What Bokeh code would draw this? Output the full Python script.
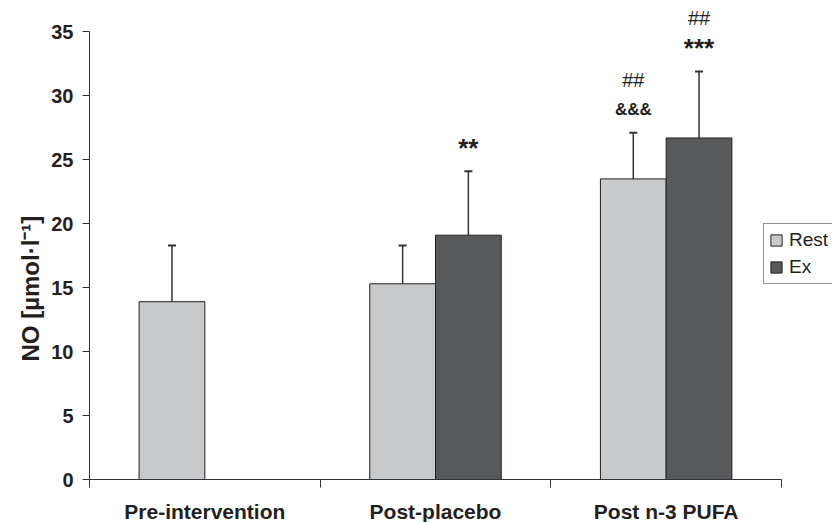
from bokeh.plotting import figure
from bokeh.models import (ColumnDataSource, FixedTicker, Whisker, TeeHead, LabelSet,
                          Legend, LegendItem, Range1d, Title)
from bokeh.core.properties import value
from bokeh.embed import file_html
from bokeh.resources import INLINE

# ---- data ----
categories = ["Pre-intervention", "Post-placebo", "Post n-3 PUFA"]
rest_mean = [13.9, 15.3, 23.5]
rest_sd = [4.4, 3.0, 3.6]
ex_categories = ["Post-placebo", "Post n-3 PUFA"]
ex_mean = [19.1, 26.7]
ex_sd = [5.0, 5.2]
y_ticks = [0, 5, 10, 15, 20, 25, 30, 35]
y_label = "NO [µmol·l⁻¹]"

# significance marks per bar: (category, series, first line, second line)
sig_category = ["Post-placebo", "Post n-3 PUFA", "Post n-3 PUFA"]
sig_series = ["Ex", "Rest", "Ex"]
sig_first = ["**", "&&&", "***"]
sig_second = ["", "##", "##"]

REST_C = "#c8c9cb"
EX_C = "#58595b"
INK = "#231f20"
AX = "#333333"
FONT = "Liberation Sans"
BW = 0.285
OFF = BW / 2

def cx(cat, series):
    i = categories.index(cat) + 0.5
    return i - OFF if series == "Rest" else i + OFF

rest_x = [cx(c, "Rest") for c in categories]
ex_x = [cx(c, "Ex") for c in ex_categories]

rest_src = ColumnDataSource(dict(x=rest_x, top=rest_mean,
                                 upper=[m + s for m, s in zip(rest_mean, rest_sd)]))
ex_src = ColumnDataSource(dict(x=ex_x, top=ex_mean,
                               upper=[m + s for m, s in zip(ex_mean, ex_sd)]))

n_cat = len(categories)
y_max = y_ticks[-1]
# frame extends beyond the axes (axes limited with bounds) so marks above/right are visible
p = figure(frame_width=743, frame_height=479, output_backend="svg", toolbar_location=None,
           x_range=Range1d(0, n_cat * 743 / 692), y_range=Range1d(0, y_max * 479 / 447.7),
           min_border_left=89, min_border_right=0, min_border_top=0, min_border_bottom=43)
p.outline_line_color = None
p.xgrid.visible = False
p.ygrid.visible = False
p.background_fill_color = "white"
p.border_fill_color = "white"

rest_r = p.vbar(x="x", top="top", bottom=0, width=BW, source=rest_src,
                fill_color=REST_C, line_color=INK, line_width=1)
ex_r = p.vbar(x="x", top="top", bottom=0, width=BW, source=ex_src,
              fill_color=EX_C, line_color=INK, line_width=1)

for src in (rest_src, ex_src):
    w = Whisker(base="x", lower="top", upper="upper", source=src, dimension="height",
                line_color=AX, line_width=1.5, lower_head=None,
                upper_head=TeeHead(size=8, line_color=AX, line_width=2))
    p.add_layout(w)

# x axis
xa = p.xaxis[0]
xa.bounds = (0, n_cat)
xa.ticker = FixedTicker(ticks=[i + 0.5 for i in range(n_cat)], minor_ticks=list(range(n_cat + 1)))
xa.major_label_overrides = {i + 0.5: c for i, c in enumerate(categories)}
xa.major_tick_out = 0
xa.major_tick_in = 0
xa.minor_tick_out = 8
xa.minor_tick_in = 0
xa.minor_tick_line_color = AX
xa.axis_line_color = AX
xa.major_label_text_font = FONT
xa.major_label_text_font_style = "bold"
xa.major_label_text_font_size = "21px"
xa.major_label_text_color = INK
xa.major_label_standoff = 12

# y axis
ya = p.yaxis[0]
ya.bounds = (0, y_max)
ya.ticker = FixedTicker(ticks=y_ticks, minor_ticks=[])
ya.major_tick_out = 7
ya.major_tick_in = 0
ya.major_tick_line_color = AX
ya.axis_line_color = AX
ya.major_label_text_font = FONT
ya.major_label_text_font_style = "bold"
ya.major_label_text_font_size = "20px"
ya.major_label_text_color = INK
ya.major_label_standoff = 9

ytitle = Title(text=y_label, align="left", offset=118, text_font=FONT,
               text_font_style="bold", text_font_size="24px", text_color=INK, standoff=10)
p.add_layout(ytitle, "left")

# significance labels
def bar_upper(cat, series):
    if series == "Rest":
        i = categories.index(cat)
        return rest_mean[i] + rest_sd[i]
    i = ex_categories.index(cat)
    return ex_mean[i] + ex_sd[i]

groups = {"star": dict(x=[], y=[], t=[]), "amp": dict(x=[], y=[], t=[]), "hash": dict(x=[], y=[], t=[])}
for c, s, f, sc in zip(sig_category, sig_series, sig_first, sig_second):
    for txt in (f, sc):
        if not txt:
            continue
        key = "star" if "*" in txt else ("amp" if "&" in txt else "hash")
        groups[key]["x"].append(cx(c, s))
        groups[key]["y"].append(bar_upper(c, s))
        groups[key]["t"].append(txt)

styles = {"star": ("bold", "26px", 23), "amp": ("bold", "17px", 23), "hash": ("normal", "20px", 53)}
for key, g in groups.items():
    st, sz, yo = styles[key]
    ls = LabelSet(x="x", y="y", text="t", source=ColumnDataSource(g), y_offset=yo,
                  text_align="center", text_baseline="middle", text_font=value(FONT),
                  text_font_style=value(st), text_font_size=value(sz), text_color=INK)
    p.add_layout(ls)

legend = Legend(items=[LegendItem(label="Rest", renderers=[rest_r]),
                       LegendItem(label="Ex", renderers=[ex_r])],
                location=(674, 195), orientation="vertical")
legend.border_line_color = INK
legend.border_line_width = 1
legend.background_fill_color = "white"
legend.background_fill_alpha = 1
legend.glyph_width = 14
legend.glyph_height = 14
legend.label_text_font = FONT
legend.label_text_font_size = "19px"
legend.label_text_color = INK
legend.label_standoff = 6
legend.padding = 5
legend.spacing = 5
legend.margin = 0
p.add_layout(legend, "center")

open("out.html", "w").write(file_html(p, INLINE))
